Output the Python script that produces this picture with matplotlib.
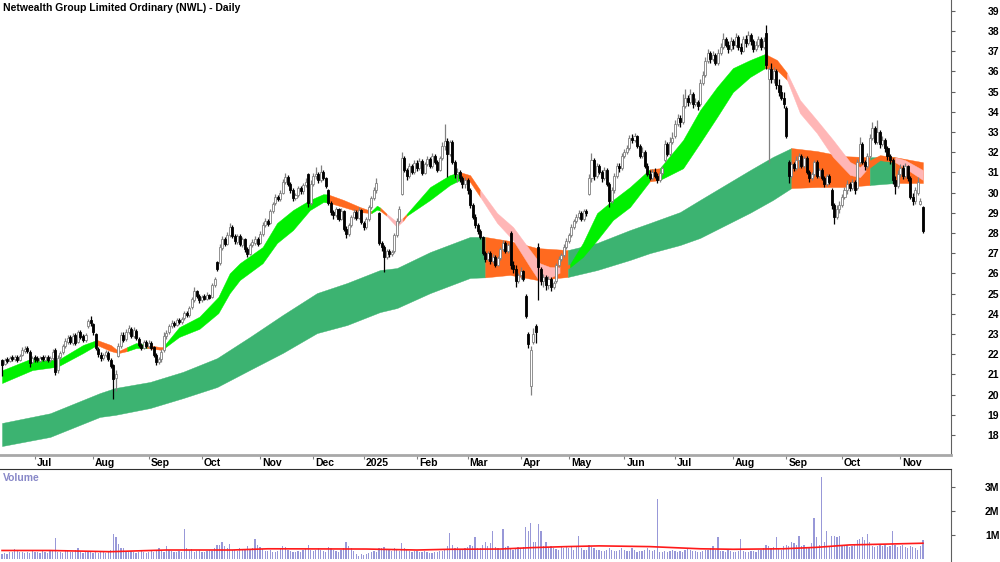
import numpy as np
import pandas as pd
import matplotlib
matplotlib.use("Agg")
import matplotlib.pyplot as plt
from matplotlib.transforms import blended_transform_factory

plt.rcParams['font.family'] = ['Liberation Sans', 'DejaVu Sans']
plt.rcParams['font.weight'] = 'bold'

TITLE = "Netwealth Group Limited Ordinary (NWL) - Daily"
FS = 7.5

# ASX trading days shown on the chart
holidays = ["2024-12-25", "2024-12-26", "2025-01-01", "2025-01-27",
            "2025-04-18", "2025-04-21", "2025-04-25", "2025-06-09"]
dates = pd.bdate_range("2024-06-12", "2025-11-14", freq="C", holidays=holidays)

# daily candles, one row per month
opens = [
    21.70, 21.50, 21.75, 21.65, 21.85, 21.75, 21.85, 21.70, 21.95, 22.15, 22.30, 22.10, 21.60,
    21.85, 21.80, 21.65, 21.85, 21.70, 21.85, 21.70, 21.80, 22.20, 21.20, 21.85, 22.10, 22.40, 22.60, 22.85, 22.55, 22.95, 22.60, 23.10, 22.90, 22.70, 23.40, 23.70,
    23.50, 23.00, 22.25, 21.95, 21.80, 21.95, 22.05, 21.70, 21.45, 20.80, 21.90, 22.40, 22.95, 22.75, 23.10, 23.25, 22.90, 23.15, 22.75, 22.45, 22.30, 22.60,
    22.40, 22.55, 22.35, 21.95, 21.60, 21.75, 22.20, 22.90, 23.10, 23.40, 23.55, 23.45, 23.70, 23.60, 23.80, 24.05, 23.95, 24.35, 24.70, 25.10, 24.90,
    24.70, 24.90, 24.75, 24.95, 24.85, 25.40, 26.55, 26.50, 27.25, 27.70, 27.45, 27.90, 28.30, 27.85, 27.55, 27.85, 27.40, 27.70, 27.20, 26.95, 27.40, 27.50, 27.70,
    27.50, 27.95, 28.40, 28.60, 28.50, 29.10, 29.50, 29.80, 29.70, 30.00, 30.50, 30.75, 30.40, 30.10, 29.75, 29.90, 30.20, 30.05, 30.35, 30.90, 29.50,
    30.40, 30.80, 30.90, 30.60, 31.00, 30.70, 30.10, 29.50, 29.05, 28.90, 29.20, 28.70, 29.10, 28.20, 27.95, 28.40, 28.80, 29.05, 28.75, 29.15,
    28.50, 28.30, 28.70, 29.30, 29.75, 30.10, 29.00, 27.50, 27.30, 26.80, 27.10, 26.95, 27.10, 27.90, 28.60, 29.95, 31.70, 31.10, 30.80, 31.30, 31.00,
    31.45, 31.20, 31.55, 30.95, 31.40, 31.65, 31.30, 31.80, 31.50, 31.10, 31.70, 32.30, 32.55, 31.90, 32.50, 31.50, 30.90, 31.00, 30.70, 30.40,
    30.60, 30.10, 29.40, 28.80, 28.40, 28.10, 27.80, 27.00, 26.70, 27.00, 26.60, 26.80, 26.40, 26.75, 27.20, 27.50, 27.10, 28.00, 26.40, 26.20, 25.60,
    25.90, 26.10, 24.90, 23.00, 20.40, 22.60, 23.40, 27.30, 26.20, 25.60, 25.80, 25.40, 25.70, 25.30, 25.60, 26.40, 26.70, 26.90, 27.30,
    27.60, 27.90, 28.30, 28.60, 28.80, 29.00, 28.70, 29.10, 29.95, 30.70, 31.60, 30.80, 31.30, 31.00, 30.70, 31.10, 30.40, 29.60, 30.10, 30.80, 31.30, 31.20,
    31.80, 32.00, 32.20, 32.70, 32.60, 32.80, 32.30, 31.80, 32.00, 31.30, 30.90, 30.70, 31.00, 30.80, 30.60, 30.95, 31.60, 32.40, 31.90, 32.50,
    32.80, 33.40, 33.70, 33.50, 34.30, 34.70, 34.50, 34.90, 34.40, 34.50, 34.40, 35.40, 35.80, 36.50, 36.90, 36.60, 36.80, 36.40, 36.90, 37.20, 37.60, 37.30, 37.10,
    37.50, 37.30, 37.70, 37.20, 37.00, 37.60, 37.40, 37.80, 37.50, 37.10, 37.30, 37.60, 37.20, 37.90, 35.60, 36.10, 35.60, 36.00, 35.30, 35.00, 34.70,
    34.20, 31.50, 30.80, 31.40, 31.20, 31.60, 31.80, 31.30, 31.70, 31.00, 30.70, 30.90, 31.50, 30.80, 31.10, 30.70, 30.40, 30.80, 30.10, 29.40, 28.80, 29.20,
    29.40, 29.80, 30.10, 30.40, 30.20, 30.50, 30.20, 31.50, 32.40, 31.50, 31.30, 31.80, 32.70, 33.20, 32.50, 33.00, 32.40, 32.60, 32.20, 31.80, 31.60, 30.60, 30.30,
    30.90, 31.20, 30.80, 31.30, 30.70, 29.80, 29.60, 30.00, 29.45, 29.30,
]
highs = [
    21.75, 21.80, 21.85, 21.90, 21.95, 21.95, 21.95, 22.00, 22.35, 22.40, 22.40, 22.20, 21.90,
    21.95, 21.90, 21.90, 21.95, 21.95, 21.95, 21.90, 22.25, 22.30, 21.95, 22.15, 22.50, 22.80, 22.95, 22.95, 23.05, 23.05, 23.20, 23.20, 23.00, 23.05, 23.75, 23.90,
    23.55, 23.05, 22.35, 22.10, 22.05, 22.20, 22.15, 21.80, 21.50, 21.20, 22.55, 23.10, 23.10, 23.25, 23.45, 23.35, 23.35, 23.25, 22.85, 22.55, 22.70, 22.70,
    22.70, 22.65, 22.40, 22.05, 21.85, 22.25, 23.10, 23.20, 23.50, 23.70, 23.65, 23.80, 23.80, 23.85, 24.15, 24.15, 24.40, 24.85, 25.30, 25.15, 25.00,
    24.95, 25.00, 25.05, 25.00, 25.50, 25.80, 26.60, 27.45, 27.85, 27.80, 28.05, 28.50, 28.40, 27.95, 27.95, 27.95, 27.80, 27.75, 27.30, 27.50, 27.70, 27.85, 27.80,
    28.10, 28.55, 28.75, 28.70, 29.20, 29.55, 29.95, 29.90, 30.10, 30.65, 30.95, 30.85, 30.50, 30.20, 30.00, 30.30, 30.30, 30.45, 30.70, 30.95, 30.60,
    30.95, 31.25, 31.00, 31.35, 31.10, 30.75, 30.15, 29.60, 29.15, 29.30, 29.25, 29.25, 29.15, 28.35, 28.50, 28.90, 29.20, 29.15, 29.30, 29.20,
    28.60, 28.80, 29.40, 29.85, 30.25, 30.70, 29.05, 27.60, 27.40, 27.20, 27.20, 27.15, 28.00, 28.75, 29.35, 32.00, 31.80, 31.20, 31.45, 31.40, 31.60,
    31.60, 31.70, 31.65, 31.50, 31.80, 31.75, 31.95, 31.90, 31.60, 31.80, 32.50, 33.40, 32.70, 32.60, 32.60, 31.60, 31.20, 31.10, 30.80, 30.75,
    30.70, 30.20, 29.50, 28.95, 28.50, 28.20, 27.85, 27.10, 27.10, 27.10, 26.95, 26.90, 26.85, 27.30, 27.65, 27.60, 27.50, 28.10, 26.60, 26.40, 26.00,
    26.30, 26.15, 25.00, 23.10, 22.40, 23.30, 23.50, 27.50, 26.30, 25.95, 25.90, 25.85, 25.80, 25.60, 26.50, 26.85, 27.00, 27.45, 27.75,
    28.00, 28.45, 28.70, 28.95, 29.15, 29.10, 29.20, 29.20, 30.90, 31.95, 31.70, 31.45, 31.40, 31.10, 31.25, 31.20, 30.50, 30.25, 30.95, 31.45, 31.45, 31.95,
    32.15, 32.35, 32.85, 32.90, 32.95, 32.85, 32.40, 32.25, 32.10, 31.45, 31.10, 31.15, 31.20, 30.95, 31.10, 31.30, 32.60, 32.50, 32.75, 33.00,
    33.60, 33.90, 33.85, 34.90, 35.10, 34.85, 35.10, 35.00, 34.70, 34.60, 35.60, 36.00, 36.70, 37.10, 37.00, 37.00, 36.90, 37.10, 37.40, 37.90, 37.70, 37.50, 37.70,
    37.60, 37.90, 37.80, 37.40, 37.75, 37.80, 38.00, 37.90, 37.60, 37.50, 37.75, 37.70, 37.70, 38.30, 36.20, 36.40, 36.20, 36.10, 35.60, 35.30, 35.00,
    34.30, 31.60, 31.55, 31.50, 31.80, 31.95, 31.90, 31.80, 31.80, 31.10, 31.00, 31.60, 31.60, 31.20, 31.20, 30.80, 30.90, 30.90, 30.20, 29.50, 29.40, 29.60,
    29.95, 30.25, 30.60, 30.50, 30.65, 30.60, 31.65, 32.75, 32.50, 31.60, 31.95, 32.90, 33.50, 33.30, 33.60, 33.10, 32.80, 32.70, 32.30, 31.90, 31.70, 30.80, 31.10,
    31.40, 31.35, 31.45, 31.35, 30.80, 30.00, 30.25, 30.75, 29.75, 29.35,
]
lows = [
    20.90, 21.45, 21.55, 21.60, 21.65, 21.65, 21.60, 21.65, 21.90, 22.05, 22.05, 21.35, 21.55,
    21.60, 21.60, 21.60, 21.65, 21.65, 21.60, 21.60, 21.70, 20.95, 21.05, 21.75, 22.00, 22.30, 22.50, 22.50, 22.45, 22.45, 22.55, 22.75, 22.60, 22.60, 23.30, 23.40,
    22.95, 22.20, 21.85, 21.65, 21.70, 21.85, 21.65, 21.30, 19.80, 20.15, 21.85, 22.30, 22.60, 22.65, 23.00, 22.80, 22.80, 22.70, 22.35, 22.20, 22.25, 22.30,
    22.30, 22.20, 21.85, 21.45, 21.50, 21.60, 22.10, 22.75, 23.00, 23.30, 23.35, 23.40, 23.50, 23.50, 23.70, 23.85, 23.85, 24.25, 24.60, 24.80, 24.55,
    24.60, 24.70, 24.70, 24.75, 24.80, 25.30, 26.10, 26.40, 27.15, 27.35, 27.40, 27.80, 27.75, 27.45, 27.45, 27.35, 27.30, 27.05, 26.80, 26.90, 27.30, 27.40, 27.35,
    27.45, 27.85, 28.30, 28.35, 28.45, 29.00, 29.40, 29.60, 29.60, 29.95, 30.40, 30.30, 30.00, 29.60, 29.65, 29.80, 29.95, 29.95, 30.25, 29.30, 29.40,
    30.30, 30.65, 30.45, 30.50, 30.60, 30.20, 29.40, 28.90, 28.70, 28.80, 28.60, 28.65, 28.10, 27.75, 27.85, 28.30, 28.70, 28.65, 28.70, 28.45,
    28.15, 28.20, 28.60, 29.20, 29.65, 30.00, 27.40, 27.10, 26.05, 26.70, 26.80, 26.85, 27.00, 27.80, 28.50, 29.90, 31.00, 30.60, 30.70, 30.90, 30.90,
    31.05, 31.10, 30.85, 30.90, 31.30, 31.20, 31.20, 31.40, 31.00, 31.05, 31.60, 32.10, 30.75, 31.80, 31.40, 30.70, 30.50, 30.50, 30.20, 30.20,
    29.95, 29.25, 28.70, 28.25, 27.95, 27.70, 26.90, 26.55, 26.60, 26.45, 26.50, 26.30, 26.35, 26.65, 27.10, 27.00, 27.00, 26.20, 26.00, 25.30, 25.50,
    25.70, 25.60, 23.80, 22.30, 20.00, 22.50, 22.55, 24.70, 25.40, 25.30, 25.15, 25.20, 25.10, 25.20, 25.50, 26.30, 26.60, 26.80, 27.20,
    27.50, 27.80, 28.20, 28.50, 28.70, 28.60, 28.60, 28.85, 29.90, 30.50, 30.60, 30.70, 30.90, 30.50, 30.60, 30.30, 29.30, 29.50, 30.00, 30.70, 31.00, 31.10,
    31.70, 31.90, 32.10, 32.45, 32.50, 32.20, 31.70, 31.70, 31.20, 30.80, 30.60, 30.60, 30.70, 30.45, 30.50, 30.85, 31.50, 31.80, 31.80, 32.40,
    32.70, 33.30, 33.25, 33.40, 34.20, 34.30, 34.40, 34.20, 34.30, 34.10, 34.30, 35.30, 35.70, 36.40, 36.40, 36.50, 36.30, 36.30, 36.80, 37.10, 37.20, 36.90, 37.00,
    37.10, 37.20, 37.05, 36.85, 36.95, 37.20, 37.30, 37.30, 36.95, 37.00, 37.20, 37.05, 37.10, 36.10, 31.45, 35.40, 35.40, 35.10, 34.80, 34.60, 34.20,
    32.70, 30.45, 30.70, 31.05, 31.10, 31.20, 31.20, 31.20, 30.90, 30.50, 30.60, 30.80, 30.70, 30.70, 30.60, 30.25, 30.30, 30.40, 29.20, 28.45, 28.70, 29.00,
    29.30, 29.70, 29.95, 30.05, 30.10, 29.95, 30.10, 31.40, 31.40, 31.10, 31.20, 31.70, 32.60, 32.40, 32.40, 32.20, 32.30, 32.00, 31.60, 31.40, 30.40, 29.95, 30.20,
    30.75, 30.65, 30.70, 30.55, 29.70, 29.40, 29.45, 29.90, 29.40, 28.00,
]
closes = [
    21.45, 21.70, 21.65, 21.80, 21.75, 21.85, 21.70, 21.90, 22.20, 22.25, 22.15, 21.55, 21.80,
    21.75, 21.70, 21.80, 21.75, 21.85, 21.70, 21.80, 22.10, 21.10, 21.80, 22.05, 22.40, 22.65, 22.80, 22.60, 22.90, 22.55, 23.10, 22.85, 22.70, 22.95, 23.65, 23.55,
    23.10, 22.30, 22.00, 21.80, 21.95, 22.10, 21.75, 21.40, 20.75, 21.00, 22.40, 22.95, 22.70, 23.10, 23.30, 22.90, 23.20, 22.80, 22.45, 22.30, 22.60, 22.40,
    22.55, 22.30, 21.95, 21.60, 21.75, 22.10, 22.90, 23.05, 23.40, 23.55, 23.45, 23.70, 23.60, 23.75, 24.05, 23.95, 24.30, 24.75, 25.10, 24.90, 24.70,
    24.85, 24.75, 24.95, 24.80, 25.40, 25.70, 26.20, 27.30, 27.70, 27.45, 27.90, 28.30, 27.85, 27.60, 27.85, 27.45, 27.70, 27.20, 26.95, 27.40, 27.55, 27.70, 27.45,
    27.95, 28.40, 28.60, 28.45, 29.10, 29.45, 29.80, 29.70, 30.00, 30.50, 30.75, 30.40, 30.10, 29.75, 29.90, 30.20, 30.05, 30.35, 30.50, 29.50, 30.40,
    30.80, 30.90, 30.60, 31.00, 30.70, 30.30, 29.50, 29.05, 28.90, 29.20, 28.70, 29.10, 28.20, 27.95, 28.40, 28.80, 29.05, 28.75, 29.15, 28.55,
    28.30, 28.70, 29.30, 29.75, 30.10, 30.45, 27.50, 27.30, 26.80, 27.10, 26.95, 27.05, 27.90, 28.60, 29.20, 31.70, 31.10, 30.80, 31.30, 31.00, 31.45,
    31.20, 31.55, 30.95, 31.40, 31.65, 31.30, 31.80, 31.50, 31.10, 31.70, 32.30, 32.55, 31.90, 32.50, 31.50, 30.90, 31.00, 30.70, 30.40, 30.60,
    30.10, 29.40, 28.80, 28.40, 28.10, 27.80, 27.00, 26.70, 27.00, 26.60, 26.80, 26.40, 26.75, 27.20, 27.50, 27.10, 27.40, 26.40, 26.20, 25.60, 25.90,
    26.10, 25.70, 23.90, 22.50, 22.20, 23.00, 23.10, 26.30, 25.60, 25.80, 25.40, 25.70, 25.30, 25.50, 26.40, 26.70, 26.90, 27.30, 27.60,
    27.90, 28.30, 28.60, 28.80, 29.00, 28.70, 29.10, 29.00, 30.70, 31.60, 30.80, 31.30, 31.00, 30.70, 31.10, 30.40, 29.60, 30.10, 30.80, 31.30, 31.20, 31.80,
    32.00, 32.20, 32.70, 32.60, 32.80, 32.30, 31.80, 32.00, 31.30, 30.90, 30.70, 31.00, 30.80, 30.60, 30.95, 31.20, 32.40, 31.90, 32.50, 32.70,
    33.40, 33.70, 33.50, 34.30, 34.70, 34.50, 34.90, 34.40, 34.50, 34.30, 35.40, 35.80, 36.50, 36.90, 36.60, 36.80, 36.40, 36.90, 37.20, 37.60, 37.30, 37.10, 37.50,
    37.30, 37.70, 37.20, 37.00, 37.60, 37.40, 37.80, 37.50, 37.10, 37.30, 37.60, 37.20, 37.50, 36.30, 36.10, 35.60, 36.00, 35.30, 35.00, 34.70, 34.40,
    32.80, 30.80, 31.40, 31.20, 31.60, 31.80, 31.30, 31.70, 31.00, 30.70, 30.90, 31.50, 30.80, 31.10, 30.70, 30.40, 30.80, 30.50, 29.40, 28.80, 29.20, 29.40,
    29.80, 30.10, 30.40, 30.20, 30.50, 30.10, 31.50, 32.40, 31.50, 31.30, 31.80, 32.70, 33.20, 32.50, 33.00, 32.40, 32.60, 32.20, 31.80, 31.60, 30.60, 30.30, 30.90,
    31.20, 30.80, 31.30, 30.70, 29.80, 29.60, 30.10, 30.50, 29.60, 28.10,
]
# volume in millions of shares
volumes = [
    0.20, 0.25, 0.22, 0.30, 0.28, 0.42, 0.34, 0.30, 0.28, 0.26, 0.30, 0.27, 0.33,
    0.30, 0.28, 0.25, 0.34, 0.30, 0.27, 0.36, 0.32, 0.87, 0.30, 0.28, 0.26, 0.33, 0.40, 0.29, 0.31, 0.38, 0.45, 0.30, 0.27, 0.29, 0.33, 0.31,
    0.25, 0.30, 0.27, 0.28, 0.31, 0.26, 0.35, 0.40, 1.04, 0.90, 0.62, 0.45, 0.48, 0.35, 0.30, 0.33, 0.28, 0.26, 0.30, 0.32, 0.29, 0.27,
    0.28, 0.32, 0.30, 0.35, 0.45, 0.34, 0.30, 0.55, 0.40, 0.33, 0.31, 0.30, 0.35, 0.29, 1.25, 0.45, 0.38, 0.42, 0.30, 0.33, 0.36,
    0.30, 0.28, 0.35, 0.40, 0.33, 0.45, 0.58, 0.60, 0.72, 0.55, 0.48, 0.62, 0.40, 0.36, 0.33, 0.45, 0.38, 0.42, 0.55, 0.40, 0.45, 0.85, 0.60,
    0.50, 0.42, 0.35, 0.33, 0.38, 0.30, 0.28, 0.32, 0.45, 0.55, 0.50, 0.40, 0.35, 0.30, 0.28, 0.33, 0.30, 0.36, 0.42, 0.60, 0.38,
    0.35, 0.40, 0.45, 0.38, 0.33, 0.30, 0.50, 0.45, 0.40, 0.35, 0.30, 0.38, 0.45, 0.72, 0.55, 0.48, 0.33, 0.20, 0.15, 0.22,
    0.18, 0.20, 0.25, 0.30, 0.35, 0.28, 0.45, 0.48, 0.50, 0.42, 0.38, 0.35, 0.45, 0.40, 0.33, 0.68, 0.45, 0.40, 0.35, 0.30, 0.33,
    0.35, 0.30, 0.28, 0.33, 0.30, 0.27, 0.25, 0.30, 0.28, 0.33, 0.35, 0.40, 0.55, 1.08, 0.60, 0.45, 0.50, 0.40, 0.38, 0.45,
    0.50, 0.60, 0.55, 0.90, 0.48, 0.45, 0.60, 0.70, 0.55, 0.65, 1.15, 0.50, 0.45, 0.40, 1.25, 0.50, 0.55, 0.45, 0.40, 0.48, 0.52,
    0.45, 0.50, 1.32, 1.17, 1.49, 0.72, 0.72, 1.45, 1.15, 0.55, 0.70, 0.48, 0.55, 0.45, 0.42, 0.40, 0.50, 0.45, 0.55,
    0.45, 0.50, 0.40, 0.55, 0.95, 0.45, 0.40, 0.38, 0.60, 0.50, 0.45, 0.40, 0.38, 0.35, 0.33, 0.40, 0.45, 0.38, 0.35, 0.33, 0.40, 0.45,
    0.40, 0.35, 0.33, 0.45, 0.38, 0.30, 0.35, 0.33, 0.40, 0.45, 0.38, 0.35, 0.40, 2.50, 0.30, 0.28, 0.33, 0.30, 0.35, 0.40,
    0.35, 0.30, 0.33, 0.28, 0.40, 0.45, 0.38, 0.35, 0.33, 0.30, 0.28, 0.35, 0.40, 0.38, 0.45, 0.55, 0.40, 0.90, 0.35, 0.33, 0.30, 0.38, 0.35,
    0.30, 0.28, 0.33, 0.85, 0.35, 0.30, 0.28, 0.33, 0.35, 0.30, 0.40, 0.38, 0.45, 0.60, 0.55, 0.48, 0.50, 0.90, 0.45, 0.40, 0.55,
    0.60, 0.55, 0.70, 0.65, 0.60, 0.95, 0.55, 0.60, 0.50, 0.45, 0.65, 1.70, 0.90, 0.60, 3.40, 0.70, 1.15, 0.55, 0.95, 0.95, 0.90, 0.95,
    0.60, 0.55, 0.58, 0.50, 0.55, 0.60, 0.80, 0.85, 0.90, 0.80, 1.05, 0.70, 0.55, 0.50, 0.55, 0.60, 0.55, 0.58, 0.50, 0.55, 1.15, 0.60, 0.50,
    0.55, 0.60, 0.50, 0.45, 0.55, 0.50, 0.45, 0.40, 0.55, 0.80,
]

# short-term moving average ribbon (read at sample bars)
short_idx = [0, 12, 22, 32, 37.5, 43, 46, 49.5, 53, 57.3, 62.5, 63.6, 70, 78, 85.5, 90, 94,
             103, 108.7, 115, 121.7, 127, 129, 135, 141.5, 146, 148.2, 149.5, 152, 156, 158.5,
             160, 169.2, 177, 181, 185, 189, 195.7, 202, 208.7, 212.6, 216.6, 220.6, 224.5,
             229.6, 235.2, 241.5, 248.2, 256, 260, 269.2, 275.9, 282.6, 288.9, 295.7, 301.6,
             306.3, 310.3, 315.4, 322.1, 328.5, 335.2, 339.1, 341.5, 347, 353, 357, 364]
short_top = [21.20, 21.80, 21.70, 22.45, 22.70, 22.45, 22.15, 22.35, 22.55, 22.45, 22.35, 22.35,
             23.33, 23.85, 24.83, 26.00, 26.50, 27.30, 28.49, 29.13, 29.63, 29.92, 29.90, 29.63,
             29.28, 29.08, 29.35, 29.25, 28.95, 28.55, 28.75, 28.95, 30.27, 30.86, 31.01, 30.86,
             30.12, 28.98, 28.29, 27.15, 26.50, 26.31, 26.30, 26.45, 27.50, 28.98, 29.63, 30.27,
             31.15, 31.20, 32.60, 34.08, 35.22, 36.16, 36.56, 36.86, 36.56, 35.92, 34.58, 33.58,
             32.60, 31.51, 31.26, 31.50, 31.85, 31.75, 31.60, 31.11]
short_bot = [20.57, 21.21, 21.38, 22.05, 22.45, 22.15, 22.05, 22.15, 22.30, 22.30, 22.22, 22.25,
             22.85, 23.25, 24.03, 25.02, 25.67, 26.50, 27.50, 28.14, 29.13, 29.53, 29.50, 29.28,
             29.03, 28.98, 29.15, 29.10, 28.85, 28.30, 28.60, 28.85, 29.63, 30.37, 30.62, 30.52,
             29.78, 28.49, 27.64, 26.31, 25.57, 25.77, 26.05, 26.30, 26.81, 27.64, 28.64, 29.28,
             30.55, 30.62, 31.20, 32.45, 33.73, 34.97, 35.72, 36.16, 36.06, 35.57, 33.93, 32.94,
             31.75, 30.87, 30.76, 31.10, 31.60, 31.50, 31.20, 30.62]
# state of each stretch: G rising, O turning, P falling
short_state = "GGGGOOOGGOOGGGGGGGGGGGOOOGGOPPOGGGOOPPPPPPOGGGGGOGGGGGGOOPPPPPPOOPPP"

# long-term moving average ribbon
long_idx = [0, 19, 38.7, 44.7, 58.5, 71.5, 85, 98, 111, 124.5, 136.4, 149.4, 156.1, 169.2, 185,
            191, 200.8, 211.5, 223.7, 235.2, 248.2, 256.1, 268, 275.9, 295.7, 304.7,
            312, 322.1, 332.4, 343, 353, 364]
long_top = [18.59, 19.07, 20.07, 20.32, 20.62, 21.12, 21.80, 22.85, 23.94, 25.02, 25.52, 26.16,
            26.26, 27.05, 27.80, 27.80, 27.60, 27.25, 27.15, 27.50, 28.14, 28.49, 29.03, 29.63,
            31.11, 31.76, 32.20, 32.05, 31.80, 31.75, 31.75, 31.50]
long_bot = [17.45, 17.90, 18.89, 18.99, 19.33, 19.82, 20.37, 21.22, 22.06, 23.04, 23.44, 24.08,
            24.28, 25.02, 25.77, 25.80, 25.92, 25.67, 25.82, 26.16, 26.66, 27.00, 27.40, 27.75,
            29.00, 29.63, 30.22, 30.27, 30.27, 30.37, 30.47, 30.47]
long_state = "DDDDDDDDDDDDDDDOOODDDDDDDDOOODOO"

# average volume line
vol_avg_idx = [0, 19, 42.7, 65, 91, 105, 144, 164, 177, 197, 210, 223, 236, 256, 276, 289,
               308.7, 322, 335, 348, 364]
vol_avg = [0.36, 0.36, 0.31, 0.38, 0.38, 0.43, 0.42, 0.38, 0.41, 0.42, 0.48, 0.52, 0.55, 0.52,
           0.43, 0.41, 0.43, 0.49, 0.59, 0.62, 0.66]

palette = {"G": "#00f000", "O": "#ff6a1f", "P": "#ffb6b6", "D": "#3cb371"}


def draw_ribbon(ax, idx, top, bot, states, z):
    idx, top, bot = np.asarray(idx), np.asarray(top), np.asarray(bot)
    k0 = 0
    n = len(idx)
    for k in range(1, n):
        if k == n - 1 or states[k] != states[k0]:
            ax.fill_between(idx[k0:k + 1], top[k0:k + 1], bot[k0:k + 1],
                            color=palette[states[k0]], lw=0.3, zorder=z)
            k0 = k


W, H = 1000, 562
fig = plt.figure(figsize=(W / 100, H / 100), dpi=100)
ax = fig.add_axes([0, 1 - 455 / H, 951 / W, 455 / H])
axv = fig.add_axes([0, 0, 951 / W, 93 / H])

x = np.arange(len(closes))
o, h, l, c = (np.array(v) for v in (opens, highs, lows, closes))
up = c >= o

draw_ribbon(ax, long_idx, long_top, long_bot, long_state, 1)
draw_ribbon(ax, short_idx, short_top, short_bot, short_state, 2)

ax.vlines(x[up], l[up], h[up], color="#808080", lw=0.9, zorder=3)
ax.vlines(x[~up], l[~up], h[~up], color="black", lw=0.9, zorder=3)
body_lo = np.minimum(o, c)
body_h = np.maximum(np.abs(c - o), 0.04)
ax.bar(x[up], body_h[up], bottom=body_lo[up], width=0.8, color="white",
       edgecolor="#808080", lw=0.6, zorder=4)
ax.bar(x[~up], body_h[~up], bottom=body_lo[~up], width=0.8, color="black",
       edgecolor="black", lw=0.6, zorder=4)

xlim = (-0.8, 375.1)
ax.set_xlim(*xlim)
ax.set_ylim(17.005, 39.53)

for s in ("top", "left"):
    ax.spines[s].set_visible(False)
ax.spines["right"].set_color("#606060")
ax.spines["bottom"].set_color("#a8a8a8")
ax.spines["bottom"].set_linewidth(2)
ax.yaxis.tick_right()
ax.set_yticks(range(18, 40))
ax.tick_params(axis="y", direction="out", length=3, width=0.8, color="#606060",
               pad=23.5, labelsize=FS)

month_idx = [i for i in range(1, len(dates)) if dates[i].month != dates[i - 1].month]
month_lab = ["2025" if dates[i].month == 1 else dates[i].strftime("%b") for i in month_idx]
ax.set_xticks(month_idx)
ax.set_xticklabels([])
ax.tick_params(axis="x", direction="out", length=3, width=0.8, color="#808080")
tr = blended_transform_factory(ax.transData, fig.transFigure)
for i, lab in zip(month_idx, month_lab):
    ax.text(i + 0.8, 1 - 462.5 / H, lab, transform=tr, ha="left", va="center",
            fontsize=FS, clip_on=False)

fig.text(3 / W, 1 - 8 / H, TITLE, ha="left", va="center", fontsize=FS)

# volume panel
axv.bar(x, volumes, width=0.5, color="#9898d8", lw=0)
axv.plot(vol_avg_idx, vol_avg, color="#ff1a1a", lw=1.2)
axv.set_xlim(*xlim)
axv.set_ylim(-0.116, 3.727)
for s in ("left", "bottom"):
    axv.spines[s].set_visible(False)
axv.spines["top"].set_color("#303030")
axv.spines["right"].set_color("#606060")
axv.set_xticks([])
axv.yaxis.tick_right()
axv.set_yticks([1, 2, 3])
axv.set_yticklabels(["1M", "2M", "3M"])
axv.tick_params(axis="y", direction="out", length=3, width=0.8, color="#606060",
                pad=21.5, labelsize=FS)
fig.text(3 / W, 1 - 478 / H, "Volume", ha="left", va="center", fontsize=FS,
         color="#8888c8")

fig.savefig("out.png", dpi=100)
